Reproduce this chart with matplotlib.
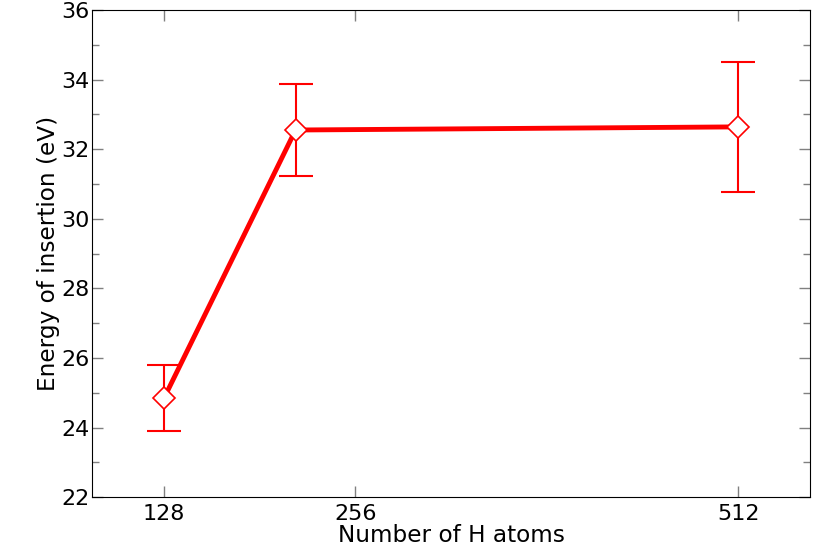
import numpy as np
import matplotlib
matplotlib.use("Agg")
import matplotlib.pyplot as plt

# data
n_atoms = [128, 216, 512]
energy = [24.84, 32.55, 32.64]
energy_err = [0.95, 1.32, 1.86]
xticks = [128, 256, 512]

fig = plt.figure(figsize=(8.3, 5.53), dpi=100)
ax = fig.add_axes([0.111, 0.101, 0.865, 0.881])

ax.errorbar(n_atoms, energy, yerr=energy_err, fmt='none', ecolor='red',
            elinewidth=1.5, capsize=12, capthick=1.5, zorder=2)
ax.plot(n_atoms, energy, color='red', lw=3.5, zorder=3)
ax.plot(n_atoms, energy, ls='none', marker='D', ms=11, mfc='white',
        mec='red', mew=1.2, zorder=4)

ax.set_xlim(80, 560)
ax.set_ylim(22, 36)
ax.set_xticks(xticks)
ax.set_xticklabels([str(t) for t in xticks])
ax.set_yticks(np.arange(22, 37, 2))
ax.set_yticks(np.arange(22, 37, 1), minor=True)

ax.tick_params(which='both', direction='in', top=True, right=True,
               labelsize=16)
ax.tick_params(axis='x', pad=5)
ax.tick_params(axis='y', pad=2)
ax.tick_params(which='major', length=8, width=1, color='gray')
ax.tick_params(which='minor', length=5, width=1, color='gray')
ax.tick_params(axis='x', which='minor', bottom=False, top=False)

ax.set_xlabel('Number of H atoms', fontsize=16.7, labelpad=0)
ax.set_ylabel('Energy of insertion (eV)', fontsize=16.7, labelpad=1)

fig.savefig('out.png', dpi=100)
